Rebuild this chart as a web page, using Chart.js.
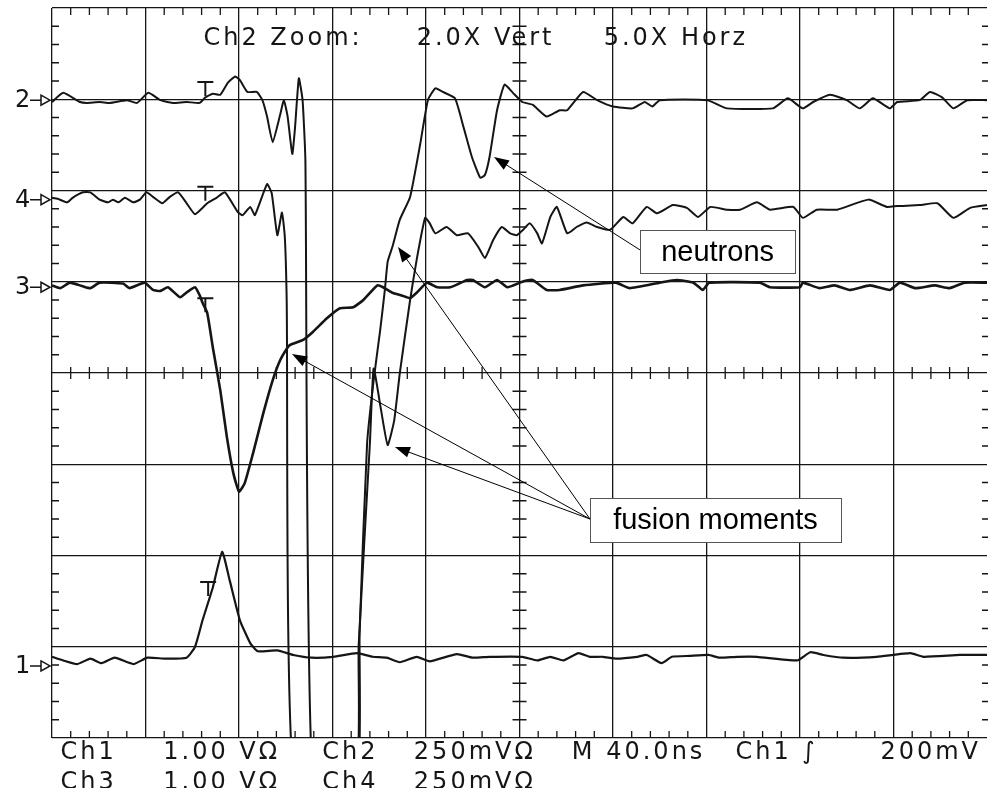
<!DOCTYPE html>
<html>
<head>
<meta charset="utf-8">
<script src="https://cdn.jsdelivr.net/npm/chart.js@4.4.1/dist/chart.umd.min.js"></script>
<style>
  html, body { margin: 0; padding: 0; background: #fff; }
</style>
</head>
<body>
<canvas id="scope" width="990" height="788"></canvas>
<script>
// Traces as [x, y] in screen divisions: x 0..10 (8 ns/div after 5x zoom), y -4..4 (0 = centre line)
const ch1 = [[0,-3.11],[0.12,-3.15],[0.27,-3.19],[0.41,-3.13],[0.53,-3.18],[0.67,-3.12],[0.87,-3.19],[1.02,-3.12],
  [1.21,-3.13],[1.44,-3.12],[1.53,-3.00],[1.61,-2.71],[1.72,-2.35],[1.82,-1.96],[1.90,-2.27],[2.01,-2.71],[2.12,-2.96],
  [2.20,-3.05],[2.41,-3.04],[2.58,-3.09],[2.78,-3.12],[3.01,-3.11],[3.26,-3.07],[3.43,-3.11],[3.58,-3.12],[3.72,-3.17],
  [3.90,-3.11],[4.04,-3.16],[4.33,-3.08],[4.50,-3.12],[4.68,-3.11],[5.03,-3.11],[5.19,-3.15],[5.33,-3.11],[5.47,-3.15],
  [5.63,-3.07],[5.75,-3.11],[5.89,-3.11],[6.04,-3.13],[6.26,-3.11],[6.36,-3.09],[6.52,-3.18],[6.63,-3.11],[6.82,-3.10],
  [7.02,-3.09],[7.14,-3.12],[7.33,-3.11],[7.54,-3.11],[7.97,-3.15],[8.11,-3.06],[8.25,-3.09],[8.46,-3.12],[8.82,-3.11],
  [9.18,-3.07],[9.32,-3.11],[9.71,-3.09],[10,-3.09]];

const ch2 = [[0,2.97],[0.12,3.07],[0.30,2.97],[0.37,2.96],[0.51,2.97],[0.62,2.96],[0.80,2.99],[0.91,2.96],[1.03,3.07],
  [1.16,2.99],[1.29,2.96],[1.44,2.97],[1.58,2.96],[1.64,3.02],[1.72,3.06],[1.80,3.05],[1.88,3.18],[1.96,3.25],[2.01,3.21],
  [2.09,3.08],[2.19,3.08],[2.25,2.99],[2.30,2.81],[2.36,2.53],[2.44,2.83],[2.48,2.99],[2.52,2.81],[2.57,2.40],[2.60,2.70],
  [2.64,3.23],[2.68,2.99],[2.71,2.33],[2.79,-4.5],
  [3.26,-4.5],[3.29,-2.85],[3.37,-0.77],[3.44,-0.08],[3.51,0.47],[3.56,0.91],[3.59,1.22],[3.64,1.38],[3.72,1.68],
  [3.83,1.93],[3.94,2.52],[4.02,2.99],[4.10,3.12],[4.18,3.08],[4.31,3.01],[4.40,2.70],[4.49,2.37],[4.58,2.14],[4.63,2.17],
  [4.68,2.37],[4.76,2.88],[4.84,3.16],[4.93,3.07],[5.03,2.97],[5.14,2.94],[5.29,2.81],[5.43,2.88],[5.51,2.88],[5.68,3.08],
  [5.83,2.99],[6.00,2.92],[6.21,2.90],[6.34,2.97],[6.42,2.92],[6.50,2.99],[7.01,2.99],[7.22,2.90],[7.71,2.90],[7.87,3.01],
  [8.03,2.90],[8.14,2.97],[8.32,3.05],[8.50,2.99],[8.64,2.90],[8.78,3.01],[8.96,2.90],[9.04,2.97],[9.28,2.99],[9.39,3.08],
  [9.52,3.02],[9.64,2.90],[9.79,2.99],[10,2.99]];

const ch3 = [[0,0.96],[0.09,0.93],[0.19,0.99],[0.33,0.95],[0.41,0.93],[0.51,0.99],[0.76,0.98],[0.83,0.93],[0.99,0.99],
  [1.08,0.91],[1.16,0.90],[1.24,0.94],[1.37,0.83],[1.45,0.89],[1.53,0.94],[1.58,0.85],[1.61,0.77],[1.66,0.66],[1.72,0.28],
  [1.80,-0.19],[1.87,-0.70],[1.94,-1.10],[2.00,-1.30],[2.06,-1.21],[2.15,-0.88],[2.26,-0.44],[2.36,-0.08],[2.44,0.14],
  [2.52,0.28],[2.55,0.31],[2.68,0.36],[2.79,0.45],[2.94,0.60],[3.08,0.71],[3.22,0.72],[3.33,0.80],[3.48,0.96],[3.54,0.94],
  [3.64,0.88],[3.74,0.85],[3.83,0.82],[3.90,0.88],[4.01,0.99],[4.12,0.94],[4.26,0.94],[4.44,1.02],[4.50,1.02],[4.63,0.94],
  [4.76,1.02],[4.87,0.94],[5.03,1.00],[5.14,1.02],[5.29,0.91],[5.43,0.91],[5.68,0.96],[6.03,0.99],[6.18,0.93],[6.50,0.99],
  [6.68,1.02],[6.86,0.99],[6.96,0.91],[7.03,0.99],[7.57,0.99],[7.68,0.94],[8.00,0.94],[8.03,0.99],[8.21,0.93],[8.37,0.96],
  [8.53,0.91],[8.75,0.96],[8.96,0.91],[9.07,0.99],[9.23,0.93],[9.44,0.96],[9.60,0.93],[9.76,0.99],[10,0.99]];

const ch4 = [[0,1.92],[0.06,1.91],[0.16,1.87],[0.22,1.92],[0.33,1.98],[0.41,1.98],[0.51,1.90],[0.60,1.87],[0.65,1.90],
  [0.71,1.87],[0.78,1.92],[0.87,1.87],[0.94,1.90],[1.01,1.98],[1.08,1.93],[1.18,1.86],[1.26,1.93],[1.35,1.98],[1.44,1.86],
  [1.53,1.74],[1.66,1.86],[1.76,1.92],[1.85,1.98],[1.99,1.76],[2.04,1.73],[2.12,1.82],[2.17,1.73],[2.30,2.07],[2.35,1.97],
  [2.41,1.51],[2.46,1.76],[2.49,1.49],[2.51,0.80],[2.59,-4.5],
  [3.24,-4.5],[3.28,-2.98],[3.40,-0.77],[3.44,0.05],[3.52,-0.41],[3.59,-0.79],[3.66,-0.52],[3.72,0.00],[3.83,0.80],
  [3.90,1.24],[3.99,1.70],[4.04,1.64],[4.10,1.53],[4.22,1.60],[4.33,1.51],[4.45,1.53],[4.56,1.38],[4.63,1.26],[4.72,1.46],
  [4.81,1.60],[4.90,1.53],[4.97,1.51],[5.04,1.57],[5.11,1.64],[5.19,1.53],[5.24,1.42],[5.33,1.71],[5.40,1.82],[5.51,1.53],
  [5.61,1.60],[5.72,1.65],[5.83,1.60],[5.97,1.57],[6.11,1.71],[6.21,1.64],[6.36,1.82],[6.47,1.75],[6.64,1.84],[6.79,1.81],
  [6.91,1.71],[7.04,1.82],[7.22,1.79],[7.36,1.79],[7.54,1.87],[7.68,1.79],[7.93,1.82],[8.03,1.70],[8.18,1.79],[8.40,1.79],
  [8.73,1.90],[8.93,1.82],[9.04,1.83],[9.28,1.84],[9.47,1.86],[9.64,1.70],[9.82,1.81],[10,1.84]];

// channel ground markers on the left edge
const markerNames = ['2', '4', '3', '1'];
const markerLevels = [2.99, 1.90, 0.94, -3.21];

// trigger "T" cursors
const trigX = [1.64, 1.64, 1.64, 1.67];
const trigY = [3.19, 2.04, 0.82, -2.29];

// scope readouts
const headerText = ['Ch2 Zoom:', '2.0X Vert', '5.0X Horz'];
const headerX = [1.62, 3.90, 5.90];
const readoutRow1 = ['Ch1', '1.00 V\u03A9', 'Ch2', '250mV\u03A9', 'M 40.0ns', 'Ch1 \u222B', '200mV'];
const readoutRow2 = ['Ch3', '1.00 V\u03A9', 'Ch4', '250mV\u03A9'];
const readoutX = [0.09, 1.19, 2.89, 3.87, 5.56, 7.31, 8.86];

// callouts: box [x0, y0, x1, y1] and arrow targets, in divisions
const callouts = [
  { text: 'neutrons', box: [6.29, 1.567, 7.947, 1.096], from: [6.29, 1.348], to: [[4.727, 2.367]] },
  { text: 'fusion moments', box: [5.754, -1.370, 8.439, -1.852], from: [5.754, -1.60],
    to: [[2.567, 0.208], [3.701, 1.381], [3.668, -0.811]] }
];

const INK = '#151515';
const SCOPE_FONT = '24px "DejaVu Sans"';

const toPts = arr => arr.map(p => ({ x: p[0], y: p[1] }));

const graticule = {
  id: 'graticule',
  beforeDatasetsDraw(chart) {
    const { ctx, chartArea: a, scales: { x, y } } = chart;
    const cx = x.getPixelForValue(5), cy = y.getPixelForValue(0);
    ctx.save();
    ctx.strokeStyle = INK;
    ctx.lineWidth = 1.3;
    ctx.beginPath();
    for (let i = 0; i <= 50; i++) {
      if (i % 5 === 0) continue;
      const px = x.getPixelForValue(i / 5);
      ctx.moveTo(px, a.top); ctx.lineTo(px, a.top + 7);
      ctx.moveTo(px, a.bottom); ctx.lineTo(px, a.bottom - 7);
      ctx.moveTo(px, cy - 6); ctx.lineTo(px, cy + 6);
    }
    for (let i = 0; i <= 40; i++) {
      if (i % 5 === 0) continue;
      const py = y.getPixelForValue(-4 + i / 5);
      ctx.moveTo(a.left, py); ctx.lineTo(a.left + 7, py);
      ctx.moveTo(a.right + 1, py); ctx.lineTo(a.right - 5, py);
      ctx.moveTo(cx - 7, py); ctx.lineTo(cx + 7, py);
    }
    ctx.stroke();
    ctx.restore();
  },
  afterDatasetsDraw(chart) {
    const { ctx, chartArea: a, scales: { x, y } } = chart;
    ctx.save();
    ctx.strokeStyle = INK;
    ctx.fillStyle = INK;

    // T cursors
    ctx.lineWidth = 2;
    trigX.forEach((tx, i) => {
      const px = x.getPixelForValue(tx), py = y.getPixelForValue(trigY[i]);
      ctx.beginPath();
      ctx.moveTo(px - 8, py); ctx.lineTo(px + 8, py);
      ctx.moveTo(px, py); ctx.lineTo(px, py + 14);
      ctx.stroke();
    });

    // channel markers "n->"
    ctx.font = SCOPE_FONT;
    ctx.textBaseline = 'middle';
    ctx.textAlign = 'left';
    ctx.lineWidth = 1.5;
    markerNames.forEach((name, i) => {
      const py = y.getPixelForValue(markerLevels[i]);
      ctx.fillText(name, a.left - 37, py + 1);
      ctx.beginPath();
      ctx.moveTo(a.left - 22, py); ctx.lineTo(a.left - 11, py);
      ctx.moveTo(a.left - 11, py - 5); ctx.lineTo(a.left - 2, py); ctx.lineTo(a.left - 11, py + 5); ctx.closePath();
      ctx.stroke();
    });

    // readouts
    ctx.letterSpacing = '3px';
    ctx.textBaseline = 'alphabetic';
    headerText.forEach((t, i) => ctx.fillText(t, x.getPixelForValue(headerX[i]), y.getPixelForValue(3.6)));
    readoutRow1.forEach((t, i) => ctx.fillText(t, x.getPixelForValue(readoutX[i]), y.getPixelForValue(-4.23)));
    readoutRow2.forEach((t, i) => ctx.fillText(t, x.getPixelForValue(readoutX[i]), y.getPixelForValue(-4.56)));
    ctx.letterSpacing = '0px';

    // callout arrows and boxes
    callouts.forEach(c => {
      const fx = x.getPixelForValue(c.from[0]), fy = y.getPixelForValue(c.from[1]);
      c.to.forEach(t => {
        const tx = x.getPixelForValue(t[0]), ty = y.getPixelForValue(t[1]);
        const ang = Math.atan2(ty - fy, tx - fx);
        ctx.strokeStyle = '#000';
        ctx.lineWidth = 1;
        ctx.beginPath();
        ctx.moveTo(fx, fy);
        ctx.lineTo(tx - 10 * Math.cos(ang), ty - 10 * Math.sin(ang));
        ctx.stroke();
        ctx.fillStyle = '#000';
        ctx.beginPath();
        ctx.moveTo(tx, ty);
        ctx.lineTo(tx - 15 * Math.cos(ang) + 5.5 * Math.sin(ang), ty - 15 * Math.sin(ang) - 5.5 * Math.cos(ang));
        ctx.lineTo(tx - 15 * Math.cos(ang) - 5.5 * Math.sin(ang), ty - 15 * Math.sin(ang) + 5.5 * Math.cos(ang));
        ctx.closePath();
        ctx.fill();
      });
      const x0 = x.getPixelForValue(c.box[0]), y0 = y.getPixelForValue(c.box[1]);
      const x1 = x.getPixelForValue(c.box[2]), y1 = y.getPixelForValue(c.box[3]);
      ctx.fillStyle = '#fff';
      ctx.fillRect(x0, y0, x1 - x0, y1 - y0);
      ctx.strokeStyle = '#555';
      ctx.lineWidth = 1;
      ctx.strokeRect(Math.round(x0) + 0.5, Math.round(y0) + 0.5, Math.round(x1 - x0), Math.round(y1 - y0));
      ctx.fillStyle = '#000';
      ctx.font = '29px "Liberation Sans", Arial, sans-serif';
      ctx.textAlign = 'center';
      ctx.textBaseline = 'middle';
      ctx.fillText(c.text, (x0 + x1) / 2, (y0 + y1) / 2 + 1);
      ctx.textAlign = 'left';
    });
    ctx.restore();
  }
};

const trace = (label, pts, width) => ({
  label, data: toPts(pts), showLine: true, borderColor: INK, borderWidth: width,
  pointRadius: 0, tension: 0.15, fill: false
});

new Chart(document.getElementById('scope'), {
  type: 'scatter',
  data: {
    datasets: [
      trace('Ch1', ch1, 2.2),
      trace('Ch2', ch2, 2),
      trace('Ch3', ch3, 2.6),
      trace('Ch4', ch4, 2)
    ]
  },
  options: {
    responsive: false,
    animation: false,
    devicePixelRatio: 1,
    layout: { padding: { left: 52, right: 3, top: 8, bottom: 50 } },
    plugins: { legend: { display: false }, tooltip: { enabled: false } },
    scales: {
      x: {
        type: 'linear', min: 0, max: 10,
        ticks: { display: false, stepSize: 1 },
        border: { display: false },
        grid: {
          drawTicks: false, lineWidth: 1.3,
          color: c => (c.tick && c.tick.value === 10 ? 'rgba(0,0,0,0)' : INK)
        }
      },
      y: {
        type: 'linear', min: -4, max: 4,
        ticks: { display: false, stepSize: 1 },
        border: { display: false },
        grid: { drawTicks: false, lineWidth: 1.3, color: INK }
      }
    }
  },
  plugins: [graticule]
});
</script>
</body>
</html>
